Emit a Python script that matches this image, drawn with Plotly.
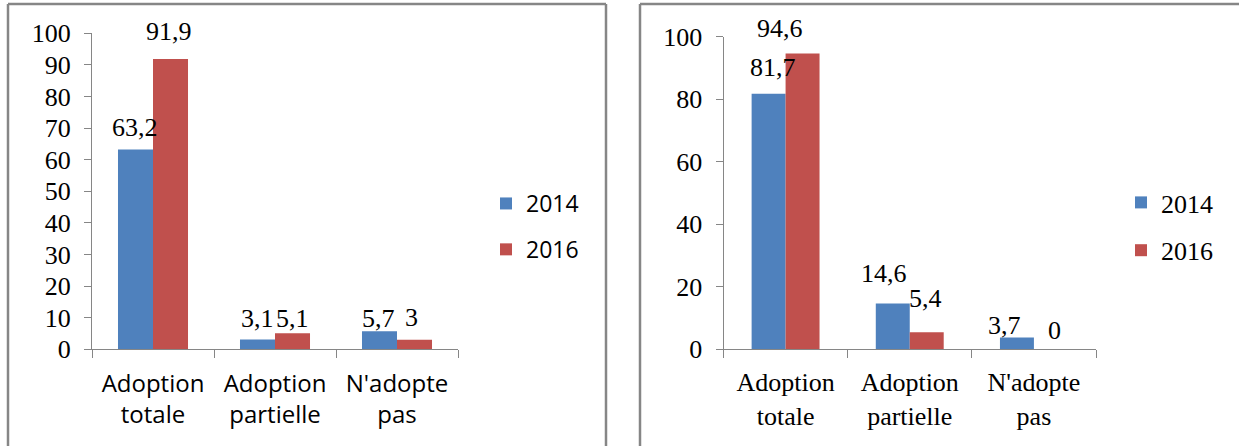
import plotly.graph_objects as go

# ---------------- data ----------------
categories = ["Adoption<br>totale", "Adoption<br>partielle", "N'adopte<br>pas"]
years = ["2014", "2016"]
left_2014 = [63.2, 3.1, 5.7]
left_2016 = [91.9, 5.1, 3]
right_2014 = [81.7, 14.6, 3.7]
right_2016 = [94.6, 5.4, 0]
left_yticks = [0, 10, 20, 30, 40, 50, 60, 70, 80, 90, 100]
right_yticks = [0, 20, 40, 60, 80, 100]

# ---------------- styling ----------------
W, H = 1239, 446
BLUE, RED = "#4F81BD", "#C0504D"
GRAY = "#868686"
SERIF = "Liberation Serif, Times New Roman, serif"
SANS = "Open Sans, Liberation Sans, sans-serif"


def px(x):
    return x / W


def py(y):
    return 1 - y / H


def fmt(v):
    return ("%g" % v).replace(".", ",")


panels = [
    dict(xa="x", ya="y", legend="legend", s2014=left_2014, s2016=left_2016,
         xdom=(92, 458), ydom=(349.3, 33.3), barw=0.287, yticks=left_yticks,
         catfont=dict(family=SANS, size=24, color="black"), catstand=13,
         numfont=dict(family=SERIF, size=26, color="black"),
         # label offsets (dx, dy) relative to bar centre / bar top, in px
         off2014=[(0, 22), (0, 21), (-1, 13)],
         off2016=[(-2, 27), (0, 15), (-3, 22)],
         legx=486, legy=182, leggap=13,
         legfont=dict(family=SANS, size=23, color="black")),
    dict(xa="x2", ya="y2", legend="legend2", s2014=right_2014, s2016=right_2016,
         xdom=(723.5, 1096), ydom=(349, 36.5), barw=0.2735, yticks=right_yticks,
         catfont=dict(family=SERIF, size=26, color="black"), catstand=10,
         numfont=dict(family=SERIF, size=26, color="black"),
         off2014=[(4, 26), (-9, 30), (-12, 12)],
         off2016=[(-23, 25), (-1, 34), (4, 19)],
         legx=1121, legy=179, leggap=11,
         legfont=dict(family=SERIF, size=26, color="black")),
]

fig = go.Figure()
annotations = []
layout_axes = {}

for k, p in enumerate(panels):
    w = p["barw"]
    catpx = (p["xdom"][1] - p["xdom"][0]) / len(categories)
    for yr, vals, col, off, offs in [("2014", p["s2014"], BLUE, -w, p["off2014"]),
                                     ("2016", p["s2016"], RED, 0.0, p["off2016"])]:
        fig.add_trace(go.Bar(
            x=categories, y=vals, name=yr, marker=dict(color=col, line=dict(width=0)),
            width=w, offset=off, xaxis=p["xa"], yaxis=p["ya"],
            legend=p["legend"], legendgroup=f"{p['legend']}{yr}", hoverinfo="skip",
        ))
        for i, v in enumerate(vals):
            dx, dy = offs[i]
            annotations.append(dict(
                x=categories[i], y=v, xref=p["xa"], yref=p["ya"], text=fmt(v),
                showarrow=False, xanchor="center", yanchor="middle",
                xshift=(off + w / 2) * catpx + dx, yshift=dy, font=p["numfont"],
            ))

    xname = "xaxis" if p["xa"] == "x" else "xaxis2"
    yname = "yaxis" if p["ya"] == "y" else "yaxis2"
    layout_axes[xname] = dict(
        domain=[px(p["xdom"][0]), px(p["xdom"][1])], anchor=p["ya"],
        type="category", range=[-0.5, 2.5], showline=True, linecolor=GRAY,
        linewidth=1, ticks="outside", tickson="boundaries", ticklen=8,
        tickcolor=GRAY, showgrid=False, tickfont=p["catfont"],
        ticklabelstandoff=p["catstand"], fixedrange=True, automargin=False,
    )
    layout_axes[yname] = dict(
        domain=[py(p["ydom"][0]), py(p["ydom"][1])], anchor=p["xa"],
        range=[0, 100], tickvals=p["yticks"], showline=True, linecolor=GRAY,
        linewidth=1, ticks="outside", ticklen=7, tickcolor=GRAY,
        showgrid=False, zeroline=False, tickfont=p["numfont"],
        ticklabelstandoff=8, fixedrange=True, automargin=False,
    )
    layout_axes[p["legend"]] = dict(
        x=px(p["legx"]), y=py(p["legy"]), xanchor="left", yanchor="top",
        font=p["legfont"], tracegroupgap=p["leggap"], bgcolor="rgba(0,0,0,0)",
        itemclick=False, itemdoubleclick=False,
    )

# frames around each panel
shapes = []
frame = dict(color=GRAY, width=2.5)
for x0, x1 in [(8, 606), (640, 1245)]:
    shapes.append(dict(type="line", xref="paper", yref="paper",
                       x0=px(x0), x1=px(x1), y0=py(4), y1=py(4), line=frame))
    shapes.append(dict(type="line", xref="paper", yref="paper",
                       x0=px(x0), x1=px(x0), y0=py(4), y1=py(460), line=frame))
shapes.append(dict(type="line", xref="paper", yref="paper",
                   x0=px(606), x1=px(606), y0=py(4), y1=py(460), line=frame))

fig.update_layout(
    width=W, height=H, margin=dict(l=0, r=0, t=0, b=0, autoexpand=False),
    paper_bgcolor="white", plot_bgcolor="white",
    barmode="overlay", showlegend=True, hovermode=False,
    annotations=annotations, shapes=shapes, **layout_axes,
)

fig.write_html(
    "out.html",
    config={"displayModeBar": False, "staticPlot": True},
    post_script="document.body.style.margin='0';document.body.style.overflow='hidden';",
)
